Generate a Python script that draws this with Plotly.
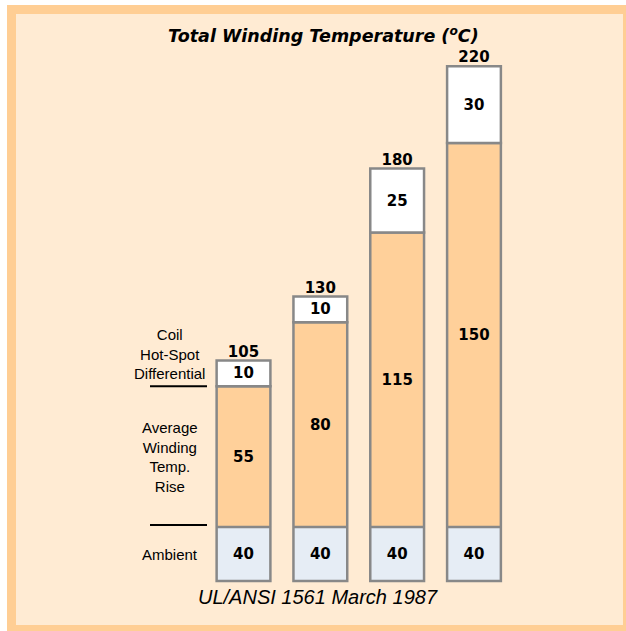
import plotly.graph_objects as go

# Insulation systems (one stacked column each) and their temperature build-up, in °C
systems = ["105 °C system", "130 °C system", "180 °C system", "220 °C system"]
ambient = [40, 40, 40, 40]
avg_rise = [55, 80, 115, 150]
hot_spot = [10, 10, 25, 30]
total = [a + r + h for a, r, h in zip(ambient, avg_rise, hot_spot)]

W, H = 626, 631


def px(x):
    return x / W


def py(y):
    return (H - y) / H


ORANGE = "#FFCE94"
PEACH = "#FFEBD3"
RISE = "#FFD09A"
AMB = "#E6EDF5"
EDGE = dict(color="#888888", width=2.5)
NUM_FONT = dict(family="DejaVu Sans", size=15, color="black", weight="bold")
LBL_FONT = dict(family="Liberation Sans, Arial", size=15, color="black")

common = dict(
    x=systems,
    width=0.7,
    textposition="inside",
    insidetextanchor="middle",
    textangle=0,
    constraintext="none",
    textfont=NUM_FONT,
    texttemplate="%{text}",
    hoverinfo="skip",
)

fig = go.Figure()

# Ambient layer sits in its own bottom band (scale break below 40 °C)
fig.add_bar(y=ambient, text=ambient, yaxis="y2",
            marker=dict(color=AMB, line=EDGE), **common)
# Average winding temperature rise, stacked on the ambient
fig.add_bar(y=avg_rise, base=ambient, text=avg_rise, yaxis="y",
            marker=dict(color=RISE, line=EDGE), **common)
# Coil hot-spot differential on top
fig.add_bar(y=hot_spot, base=[a + r for a, r in zip(ambient, avg_rise)],
            text=hot_spot, yaxis="y",
            marker=dict(color="white", line=EDGE), **common)

# Total winding temperature above each column
fig.add_scatter(x=systems, y=total, text=total, mode="text",
                textposition="top center", textfont=NUM_FONT,
                cliponaxis=False, hoverinfo="skip", yaxis="y")

scale_main = 2.56  # px per °C in the main band
top_px, split_px, bottom_px = 40, 527, 583

fig.update_layout(
    width=W, height=H,
    margin=dict(l=0, r=0, t=0, b=0),
    paper_bgcolor="white",
    plot_bgcolor="rgba(0,0,0,0)",
    barmode="overlay",
    showlegend=False,
    xaxis=dict(domain=[px(205.1), px(512.4)], range=[-0.5, 3.5],
               anchor="y2", visible=False, type="category"),
    yaxis=dict(domain=[py(split_px), py(top_px)],
               range=[40, 40 + (split_px - top_px) / scale_main],
               anchor="x", visible=False),
    yaxis2=dict(domain=[py(bottom_px), py(split_px)],
                range=[-2 / 1.35, 40], anchor="x", visible=False),
)

# Frame: orange border around a peach panel
fig.add_shape(type="rect", xref="paper", yref="paper", layer="below",
              x0=px(7), x1=px(626), y0=py(631), y1=py(5),
              fillcolor=ORANGE, line_width=0)
fig.add_shape(type="rect", xref="paper", yref="paper", layer="below",
              x0=px(16), x1=px(623), y0=py(625), y1=py(14),
              fillcolor=PEACH, line_width=0)

# Separators beside the first column
fig.add_shape(type="line", xref="paper", yref="y",
              x0=px(150), x1=px(207),
              y0=ambient[0] + avg_rise[0], y1=ambient[0] + avg_rise[0],
              line=dict(color="black", width=2))
fig.add_shape(type="line", xref="paper", yref="paper",
              x0=px(150), x1=px(207), y0=py(525), y1=py(525),
              line=dict(color="black", width=2))

# Layer labels
lx = px(170)
fig.add_annotation(x=lx, xref="paper", y=ambient[0] + avg_rise[0], yref="y",
                   xanchor="center", yanchor="bottom", yshift=2,
                   showarrow=False,
                   text="Coil<br>Hot-Spot<br>Differential", font=LBL_FONT)
fig.add_annotation(x=lx, xref="paper", y=ambient[0] + avg_rise[0] / 2, yref="y",
                   xanchor="center", yanchor="middle", showarrow=False,
                   text="Average<br>Winding<br>Temp.<br>Rise", font=LBL_FONT)
fig.add_annotation(x=lx, xref="paper", y=ambient[0] / 2, yref="y2",
                   xanchor="center", yanchor="middle", showarrow=False,
                   text="Ambient", font=LBL_FONT)

# Title and source
fig.add_annotation(x=px(323.5), y=py(35), xref="paper", yref="paper",
                   xanchor="center", yanchor="middle", showarrow=False,
                   text="Total Winding Temperature (<sup>o</sup>C)",
                   font=dict(family="DejaVu Sans", size=17.5, color="black",
                             weight="bold", style="italic"))
fig.add_annotation(x=px(317.5), y=py(597), xref="paper", yref="paper",
                   xanchor="center", yanchor="middle", showarrow=False,
                   text="UL/ANSI 1561 March 1987",
                   font=dict(family="Liberation Sans, Arial", size=20,
                             color="black", style="italic"))

fig.write_html("out.html")
